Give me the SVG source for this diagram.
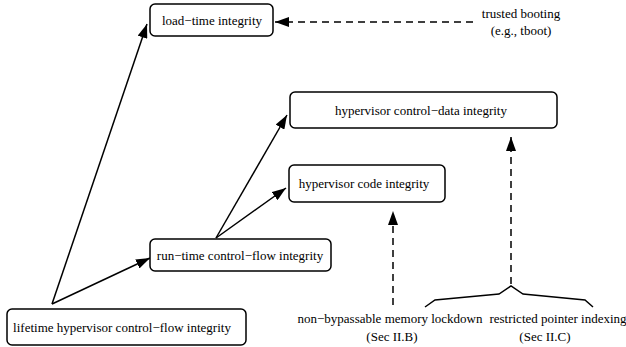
<svg xmlns="http://www.w3.org/2000/svg" width="626" height="347" viewBox="0 0 626 347">
<style>
  .box { fill: #fff; stroke: #000; stroke-width: 1.5; }
  text { font-family: "Liberation Serif", "Times New Roman", serif; font-size: 13px; fill: #000; text-anchor: middle; }
  .edge { fill: none; stroke: #000; stroke-width: 1.5; }
  .dash { fill: none; stroke: #000; stroke-width: 1.5; stroke-dasharray: 7 5; }
  .brace { fill: none; stroke: #000; stroke-width: 1.5; stroke-linejoin: miter; }
</style>
<defs>
  <marker id="arrow" viewBox="0 0 10 10" refX="10" refY="5" markerWidth="9" markerHeight="9" markerUnits="userSpaceOnUse" orient="auto">
    <path d="M0,0 L10,5 L0,10 z" fill="#000"/>
  </marker>
  <marker id="arrowL" viewBox="0 0 14 10" refX="14" refY="5" markerWidth="14" markerHeight="10" markerUnits="userSpaceOnUse" orient="auto">
    <path d="M0,0 L14,5 L0,10 z" fill="#000"/>
  </marker>
</defs>

<g id="connectors">
  <line class="edge" x1="52" y1="304" x2="147" y2="24" marker-end="url(#arrowL)"/>
  <line class="edge" x1="52" y1="304" x2="150" y2="258" marker-end="url(#arrowL)"/>
  <line class="edge" x1="216" y1="238" x2="286" y2="188" marker-end="url(#arrowL)"/>
  <line class="edge" x1="216" y1="238" x2="287" y2="115" marker-end="url(#arrowL)"/>
  <line class="dash" x1="473" y1="22" x2="275" y2="22" marker-end="url(#arrowL)"/>
  <line class="dash" x1="393" y1="305" x2="393" y2="211" marker-end="url(#arrowL)"/>
  <line class="dash" x1="511" y1="284" x2="511" y2="137" marker-end="url(#arrowL)"/>
  <polyline class="brace" points="425,307 435,300 499,294 511,286 523,294 585,300 593,307"/>
</g>

<g id="load-time">
  <rect class="box" x="150" y="4" width="123" height="32" rx="5"/>
  <text x="212" y="25">load−time integrity</text>
</g>
<g id="control-data">
  <rect class="box" x="290" y="92" width="267" height="36" rx="5"/>
  <text x="421" y="115">hypervisor control−data integrity</text>
</g>
<g id="code">
  <rect class="box" x="289" y="165" width="156" height="37" rx="5"/>
  <text x="364" y="188">hypervisor code integrity</text>
</g>
<g id="run-time">
  <rect class="box" x="150" y="239" width="181" height="32" rx="5"/>
  <text x="240" y="260">run−time control−flow integrity</text>
</g>
<g id="lifetime">
  <rect class="box" x="7" y="309" width="239" height="36" rx="5"/>
  <text x="122" y="332">lifetime hypervisor control−flow integrity</text>
</g>

<g id="trusted-booting">
  <text x="521" y="18">trusted booting</text>
  <text x="521" y="35">(e.g., tboot)</text>
</g>
<g id="memory-lockdown">
  <text x="390" y="323">non−bypassable memory lockdown</text>
  <text x="392" y="341">(Sec II.B)</text>
</g>
<g id="pointer-indexing">
  <text x="558" y="323">restricted pointer indexing</text>
  <text x="545" y="341">(Sec II.C)</text>
</g>
</svg>
